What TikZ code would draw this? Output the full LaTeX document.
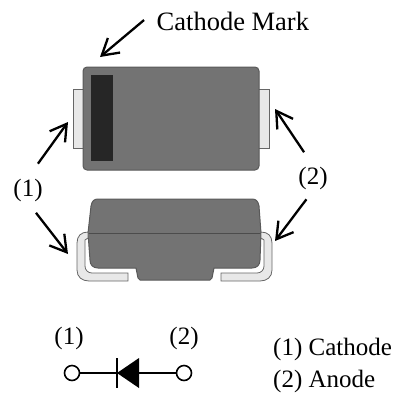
\documentclass[tikz,border=0pt]{standalone}
\usepackage{fontspec}
\setmainfont{Liberation Serif}
\usetikzlibrary{arrows.meta}
\newcommand{\sidelead}{(88,232) .. controls (81,232) and (77,236) .. (77,243) -- (77,270) .. controls (77,277) and (82,281) .. (89,281) -- (128,281) -- (128,273) -- (92,273) .. controls (88,273) and (85,270) .. (85,266) -- (85,240) -- (88,238) -- cycle}
\tikzset{
	pointer/.style={-{Straight Barb[length=16pt,width=19pt]},line width=2.3pt,black},
	lbl/.style={font=\fontsize{25}{27}\selectfont,inner sep=1pt},
	package/.style={draw=black!65,line width=1pt,fill=black!55},
	leadbox/.style={draw=black!60,line width=.8pt,fill=black!9},
	terminal/.style={circle,draw=black,line width=1.6pt,fill=white,minimum size=15pt,inner sep=0pt}
}
\begin{document}
\begin{tikzpicture}[x=1pt,y=-1pt]
	\useasboundingbox (0,0) rectangle (403,392);
	% top view
	\draw[leadbox] (73,89) rectangle (84,148);
	\draw[leadbox] (258,89) rectangle (269,148);
	\draw[package,rounded corners=4pt] (83,67) rectangle (259,170);
	\fill[black!85] (91,75) rectangle (113,161);
	% side view
	\draw[package] (88,233) -- (91,206) .. controls (92,201) and (94,199) .. (98,199) -- (252,199) .. controls (256,199) and (258,201) .. (259,206) -- (261,233) -- (260,260) .. controls (260,265) and (257,268) .. (252,268) -- (214,268) -- (212,278) -- (210,280) -- (140,280) -- (138,278) -- (136,268) -- (98,268) .. controls (93,268) and (90,265) .. (90,260) -- cycle;
	\draw[black!70,line width=.8pt] (88,233) -- (261,233);
	\draw[leadbox] \sidelead;
	\begin{scope}[xshift=349pt,xscale=-1]
		\draw[leadbox] \sidelead;
	\end{scope}
	% labels
	\node[lbl,font=\fontsize{26.5}{28}\selectfont,anchor=base west] (mark) at (155.5,30) {Cathode Mark};
	\node[lbl] (one) at (28,190) {(1)};
	\node[lbl] (two) at (313,178) {(2)};
	\coordinate (tipmark) at (100,57);
	\coordinate (tipa) at (68,122);
	\coordinate (tipb) at (68,254);
	\coordinate (tipc) at (275,109);
	\coordinate (tipd) at (275,241);
	\path[pointer]
	(mark.north west) edge[shorten <=15pt] (tipmark)
	(one.north) edge[shorten <=17pt] (tipa)
	(one.south) edge[shorten <=13pt] (tipb)
	(two.north) edge[shorten <=16pt] (tipc)
	(two.south) edge[shorten <=11pt] (tipd);
	% symbol
	\node[terminal] (k) at (72,373) {};
	\node[terminal] (a) at (184,373) {};
	\coordinate (barm) at (117,373);
	\coordinate (base) at (139,373);
	\draw[line width=1.6pt] (k) -- (barm) (base) -- (a);
	\draw[line width=1.6pt] (117,358) -- (barm) -- (117,388);
	\fill (barm) -- (139,358) -- (139,388) -- cycle;
	\node[lbl] (symone) at (69,338) {(1)};
	\node[lbl] (symtwo) at (184,338) {(2)};
	\node[lbl,anchor=base west] (legone) at (272,355) {(1) Cathode};
	\node[lbl,anchor=base west] (legtwo) at (272,387) {(2) Anode};
\end{tikzpicture}
\end{document}
